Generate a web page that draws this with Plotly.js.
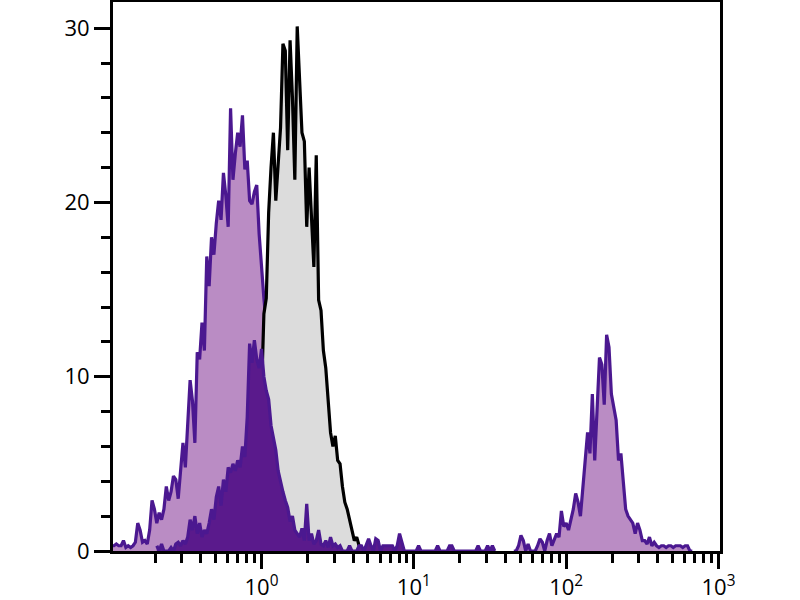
<!DOCTYPE html>
<html>
<head>
<meta charset="utf-8">
<script src="https://cdn.plot.ly/plotly-3.0.1.min.js"></script>
<style>
  body { margin: 0; background: #fff; }
  #grafico { width: 800px; height: 600px; }
</style>
</head>
<body>
<div id="grafico"></div>
<script>
// canales de 1/64 de decada, el canal 0 es 10^-1
var canalesPorDecada = 64;

// histograma morado claro (pico izquierdo), empieza en el canal 1
var claroInicio = 1;
var claroValores = [
  0.3,0.3,0.4,0.3,0.3,0.6,0.2,0.3,0.2,0.3,
  0.5,1.6,1.2,0.5,0.6,0.4,1.2,2.9,2.4,1.6,
  2.2,1.8,2.4,3.7,2.9,3.4,4.3,4.1,3.0,4.6,
  6.2,4.8,7.5,9.8,8.6,6.2,11.4,11.0,13.1,11.5,
  16.9,15.2,18.0,17.0,18.8,20.1,19.0,21.7,20.4,18.6,
  25.4,21.3,22.8,24.0,23.2,25.0,21.9,22.4,20.1,19.9,
  20.6,21.0,18.2,16.0,14.5,13.0,12.0,10.5,9.5,8.4,
  7.4,6.5,5.6,4.8,4.0,3.4,2.8,2.3,1.9,1.5,
  1.2,0.9,0.7,0.5,0.3,0.2,0
];

// histograma morado claro (pico derecho)
var claro2Inicio = 170;
var claro2Valores = [
  0,0,0.3,0.9,0.6,0,0.4,0,0,0,
  0.3,0.7,0.5,0,0.6,1.0,0.3,0.6,1.0,0.8,
  2.3,1.4,1.6,1.2,1.8,2.4,3.3,2.8,2.0,3.6,
  5.2,6.8,5.6,9.0,5.2,8.0,11.1,10.7,8.4,12.4,
  11.7,9.0,8.2,7.5,5.2,5.6,4.0,2.4,2.0,1.8,
  1.6,1.0,1.6,1.2,0.6,0.6,0.4,0.8,0.3,0.5,
  0.3,0.2,0.3,0.3,0.2,0.3,0.3,0.2,0.3,0.3,
  0.3,0.2,0.3,0.3,0,0
];

// control gris con linea negra
var grisInicio = 60;
var grisValores = [
  0.5,1.5,3,5.5,9,13.6,14.5,19.4,22.0,24.0,
  20.1,22.5,24.3,29.1,28.7,23.0,29.3,26.0,21.3,30.1,
  26.5,24.0,23.5,18.6,22.0,19.0,16.3,22.7,14.4,13.8,
  11.5,10.5,8.9,6.8,6.0,6.6,5.2,5.0,3.7,2.8,
  2.4,1.8,1.4,0.6,0.8,0.3,0
];

// histograma morado oscuro
var oscuroInicio = 20;
var oscuroValores = [
  0.3,0,0.4,0,0,0,0.2,0,0.4,0.5,
  0.3,0.6,0.4,0.8,1.8,1.2,2.0,1.0,1.6,0.8,
  1.2,1.0,1.6,2.4,1.8,3.1,3.7,2.6,4.1,3.4,
  4.8,4.5,5.0,4.6,5.2,4.8,6.0,5.4,7.7,11.9,
  10.8,12.1,11.0,10.5,11.6,10.0,9.2,8.7,7.2,6.4,
  5.8,4.6,3.9,3.4,2.9,2.5,1.7,2.0,1.2,1.0,
  0.8,1.3,0.6,2.7,0.6,1.0,0.4,0.6,1.2,0.4,
  0.3,0.6,0.2,0.8,0.3,0.4,0.2,0.3,0,0,
  0,0.3,0,0,0,0.3,0.3,0,0.4,0.7,
  0.3,0,0.7,0.6,0,0.3,0.3,0.3,0.3,0.3,
  0,0.3,1.0,0.5,0,0,0,0,0,0,
  0.3,0,0,0,0,0,0,0,0.3,0,
  0,0,0,0.3,0.3,0,0,0,0,0,
  0,0,0,0,0,0.3,0,0,0,0.3,
  0,0.3,0
];

var ticksX = [1, 10, 100, 1000];
var etiquetasX = ['10<sup>0</sup>', '10<sup>1</sup>', '10<sup>2</sup>', '10<sup>3</sup>'];
var menoresX = [0.2,0.3,0.4,0.5,0.6,0.7,0.8,0.9, 2,3,4,5,6,7,8,9,
  20,30,40,50,60,70,80,90, 200,300,400,500,600,700,800,900];
var ticksY = [0, 10, 20, 30];

function ejeX(inicio, n) {
  var xs = [];
  for (var i = 0; i < n; i++) xs.push(Math.pow(10, -1 + (inicio + i) / canalesPorDecada));
  return xs;
}

function traza(inicio, valores, linea, relleno) {
  return {
    x: ejeX(inicio, valores.length),
    y: valores,
    type: 'scatter',
    mode: 'lines',
    fill: 'tozeroy',
    fillcolor: relleno,
    line: { color: linea, width: 3.2 },
    hoverinfo: 'skip'
  };
}

var data = [
  traza(claroInicio, claroValores, '#4b1890', '#ba8cc4'),
  traza(claro2Inicio, claro2Valores, '#4b1890', '#ba8cc4'),
  traza(grisInicio, grisValores, '#000000', '#dcdcdc'),
  traza(oscuroInicio, oscuroValores, '#4b1890', '#5a1a8c')
];

var layout = {
  width: 800,
  height: 600,
  margin: { l: 113, r: 80, t: 2, b: 49 },
  paper_bgcolor: '#fff',
  plot_bgcolor: '#fff',
  showlegend: false,
  font: { family: 'Open Sans, sans-serif', color: '#000', size: 22 },
  xaxis: {
    type: 'log',
    range: [-0.975, 3.01],
    tickmode: 'array',
    tickvals: ticksX,
    ticktext: etiquetasX,
    ticks: 'outside',
    ticklen: 15,
    tickwidth: 3,
    tickcolor: '#000',
    ticklabelstandoff: 0,
    tickfont: { size: 22 },
    minor: { tickmode: 'array', tickvals: menoresX, ticks: 'outside', ticklen: 9, tickwidth: 3, tickcolor: '#000', showgrid: false },
    showline: true,
    linewidth: 3,
    linecolor: '#000',
    mirror: true,
    showgrid: false,
    zeroline: false
  },
  yaxis: {
    range: [0, 31.5],
    tickmode: 'array',
    tickvals: ticksY,
    ticks: 'outside',
    ticklen: 16,
    tickwidth: 3,
    tickcolor: '#000',
    tickfont: { size: 22 },
    minor: { dtick: 2, ticks: 'outside', ticklen: 9, tickwidth: 3, tickcolor: '#000', showgrid: false },
    showline: true,
    linewidth: 3,
    linecolor: '#000',
    mirror: true,
    showgrid: false,
    zeroline: false
  }
};

Plotly.newPlot('grafico', data, layout, { staticPlot: true });
</script>
</body>
</html>
